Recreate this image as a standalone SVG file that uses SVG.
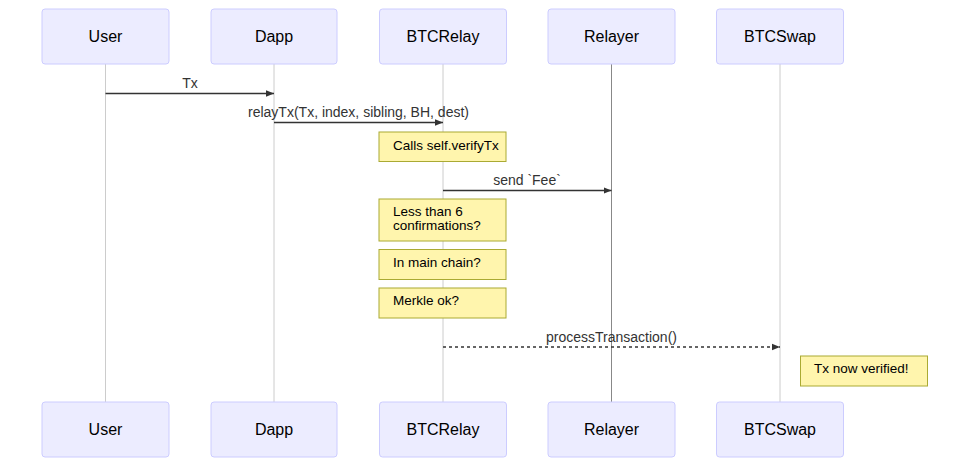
<svg xmlns="http://www.w3.org/2000/svg" width="966" height="467" viewBox="0 0 966 467">
<style>
.actor rect{fill:#ECECFF;stroke:#CCCCFF;stroke-width:1}
.actor text{font-family:"Liberation Sans",Arial,sans-serif;font-size:16px;fill:#000;text-anchor:middle;dominant-baseline:central}
.life{stroke:#ccc;stroke-width:1}
.msg{stroke:#333;stroke-width:1.5;fill:none}
.dash{stroke-dasharray:3,3}
.mlabel{font-family:"Liberation Sans",Arial,sans-serif;font-size:14px;fill:#333;text-anchor:middle}
.note rect{fill:#fff5ad;stroke:#aaaa33;stroke-width:1}
.note text{font-family:"Liberation Sans",Arial,sans-serif;font-size:13.5px;fill:#000}
</style>
<defs>
<marker id="ah" viewBox="0 0 10 10" refX="10" refY="5" markerWidth="8" markerHeight="8" markerUnits="userSpaceOnUse" orient="auto">
<path d="M0,1 L10,5 L0,9 z" fill="#333"/>
</marker>
</defs>
<g id="lifelines">
<line class="life" x1="105.5" y1="64" x2="105.5" y2="402"/>
<line class="life" x1="274" y1="64" x2="274" y2="402"/>
<line class="life" x1="443" y1="64" x2="443" y2="402"/>
<line class="life" x1="611.5" y1="64" x2="611.5" y2="402" style="stroke:#888"/>
<line class="life" x1="780" y1="64" x2="780" y2="402"/>
</g>
<g id="actor-User-top" class="actor"><rect x="42" y="9" width="127" height="55" rx="3"/><text x="105.5" y="36">User</text></g>
<g id="actor-Dapp-top" class="actor"><rect x="211" y="9" width="126" height="55" rx="3"/><text x="274" y="36">Dapp</text></g>
<g id="actor-BTCRelay-top" class="actor"><rect x="379.5" y="9" width="127" height="55" rx="3"/><text x="443" y="36">BTCRelay</text></g>
<g id="actor-Relayer-top" class="actor"><rect x="548" y="9" width="127" height="55" rx="3"/><text x="611.5" y="36">Relayer</text></g>
<g id="actor-BTCSwap-top" class="actor"><rect x="716.5" y="9" width="127" height="55" rx="3"/><text x="780" y="36">BTCSwap</text></g>
<g id="actor-User-bottom" class="actor"><rect x="42" y="402" width="127" height="55" rx="3"/><text x="105.5" y="429">User</text></g>
<g id="actor-Dapp-bottom" class="actor"><rect x="211" y="402" width="126" height="55" rx="3"/><text x="274" y="429">Dapp</text></g>
<g id="actor-BTCRelay-bottom" class="actor"><rect x="379.5" y="402" width="127" height="55" rx="3"/><text x="443" y="429">BTCRelay</text></g>
<g id="actor-Relayer-bottom" class="actor"><rect x="548" y="402" width="127" height="55" rx="3"/><text x="611.5" y="429">Relayer</text></g>
<g id="actor-BTCSwap-bottom" class="actor"><rect x="716.5" y="402" width="127" height="55" rx="3"/><text x="780" y="429">BTCSwap</text></g>
<g id="connectors">
<line class="msg" x1="105.5" y1="93.5" x2="274" y2="93.5" marker-end="url(#ah)"/>
<text class="mlabel" x="190" y="88">Tx</text>
<line class="msg" x1="274" y1="122.5" x2="443" y2="122.5" marker-end="url(#ah)"/>
<text class="mlabel" x="358.5" y="117">relayTx(Tx, index, sibling, BH, dest)</text>
<line class="msg" x1="443" y1="190.5" x2="611.5" y2="190.5" marker-end="url(#ah)"/>
<text class="mlabel" x="527" y="185">send `Fee`</text>
<line class="msg dash" x1="443" y1="347" x2="780" y2="347" marker-end="url(#ah)"/>
<text class="mlabel" x="611.5" y="341.5">processTransaction()</text>
</g>
<g id="note-verify" class="note"><rect x="379" y="132" width="127" height="29.5"/><text x="393" y="150">Calls self.verifyTx</text></g>
<g id="note-confirm" class="note"><rect x="379" y="199" width="127" height="42"/><text x="393" y="215.5">Less than 6</text><text x="393" y="229.5">confirmations?</text></g>
<g id="note-chain" class="note"><rect x="379" y="249.5" width="127" height="30"/><text x="393" y="267">In main chain?</text></g>
<g id="note-merkle" class="note"><rect x="379" y="288" width="127" height="30"/><text x="393" y="305">Merkle ok?</text></g>
<g id="note-verified" class="note"><rect x="800.5" y="356" width="127" height="30"/><text x="814" y="373">Tx now verified!</text></g>
</svg>
